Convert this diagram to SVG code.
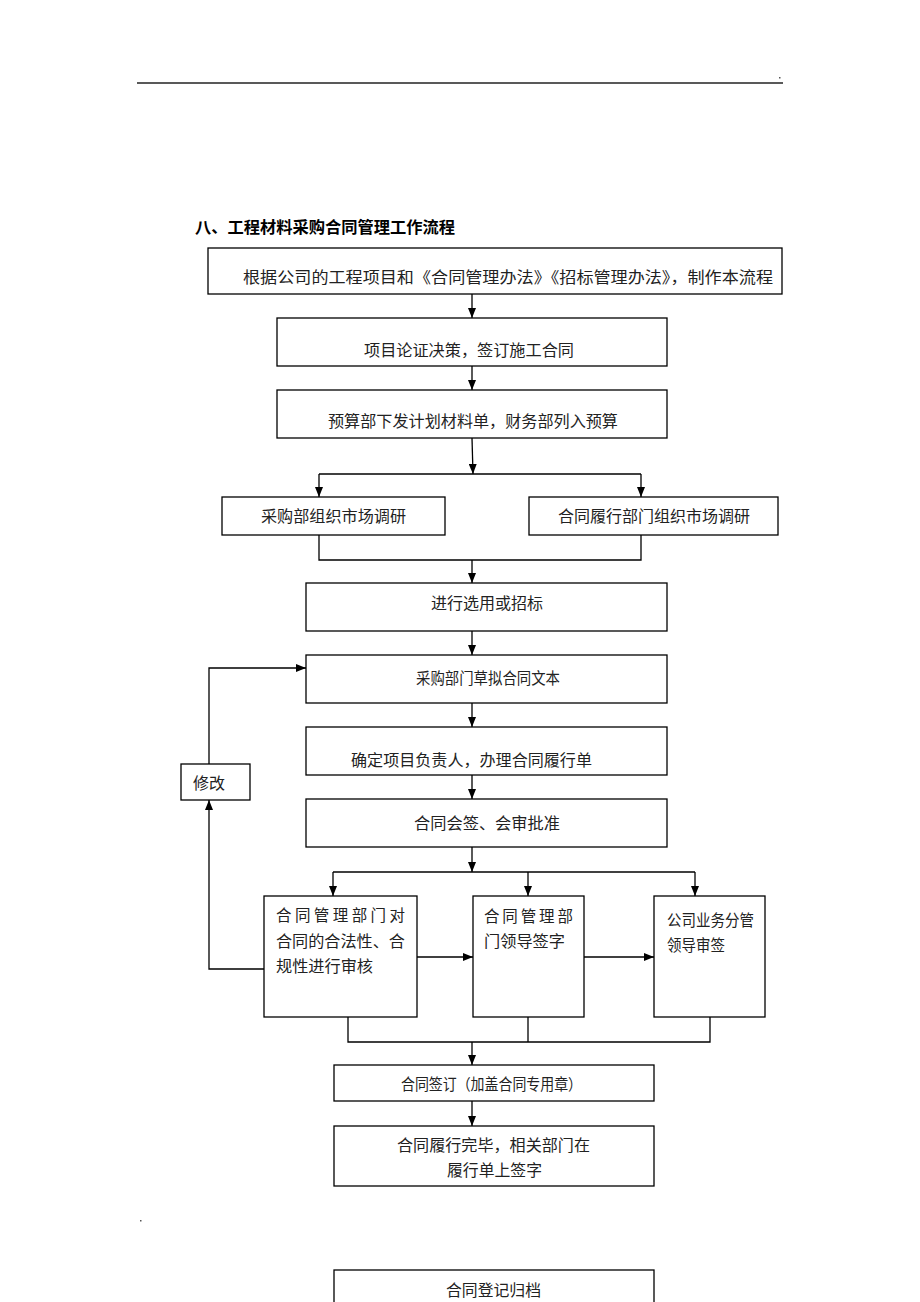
<svg xmlns="http://www.w3.org/2000/svg" width="920" height="1302" viewBox="0 0 920 1302">
<defs>
<marker id="ah" viewBox="0 0 10 8" refX="10" refY="4" markerWidth="10" markerHeight="8" markerUnits="userSpaceOnUse" orient="auto">
<path d="M0,0 L10,4 L0,8 Z" fill="#000"/>
</marker>
<style>
.box{fill:#fff;stroke:#000;stroke-width:1.3}
.ln{fill:none;stroke:#000;stroke-width:1.3}
.ar{fill:none;stroke:#000;stroke-width:1.3;marker-end:url(#ah)}
.t{font-family:"Noto Sans CJK SC","Noto Sans",sans-serif;font-size:15.5px;fill:#222}
.ttl{font-family:"Noto Sans CJK SC","Noto Sans",sans-serif;font-size:16px;font-weight:bold;fill:#000}
</style>
</defs>
<rect width="920" height="1302" fill="#fff"/>
<g id="header">
<line x1="137" y1="83" x2="783" y2="83" stroke="#222" stroke-width="1.5"/>
<rect x="779" y="77" width="1.5" height="1.5" fill="#555"/>
<rect x="140" y="1220" width="1.5" height="1.5" fill="#555"/>
<text class="ttl" x="195" y="233" textLength="260" lengthAdjust="spacingAndGlyphs">八、工程材料采购合同管理工作流程</text>
</g>
<g id="connectors">
<line class="ar" x1="472" y1="294" x2="472" y2="318"/>
<line class="ar" x1="472" y1="366" x2="472" y2="390"/>
<line class="ar" x1="472" y1="438" x2="473" y2="474"/>
<polyline class="ln" points="319,474 641,474"/>
<line class="ar" x1="319" y1="474" x2="319" y2="497"/>
<line class="ar" x1="641" y1="474" x2="641" y2="497"/>
<polyline class="ln" points="319,535 319,560 641,560 641,535"/>
<line class="ar" x1="472" y1="560" x2="472" y2="583"/>
<line class="ar" x1="472" y1="631" x2="472" y2="655"/>
<line class="ar" x1="472" y1="703" x2="472" y2="727"/>
<line class="ar" x1="472" y1="775" x2="472" y2="799"/>
<line class="ar" x1="472" y1="847" x2="472" y2="872"/>
<polyline class="ln" points="333,872 695,872"/>
<line class="ar" x1="333" y1="872" x2="333" y2="896"/>
<line class="ar" x1="528" y1="872" x2="528" y2="896"/>
<line class="ar" x1="695" y1="872" x2="695" y2="896"/>
<line class="ar" x1="417" y1="957" x2="473" y2="957"/>
<line class="ar" x1="584" y1="957" x2="654" y2="957"/>
<polyline class="ar" points="264,969 209,969 209,800"/>
<polyline class="ar" points="209,764 209,668 306,668"/>
<polyline class="ln" points="348,1017 348,1042 710,1042 710,1017"/>
<line class="ln" x1="528" y1="1017" x2="528" y2="1042"/>
<line class="ar" x1="472" y1="1042" x2="472" y2="1065"/>
<line class="ar" x1="472" y1="1101" x2="472" y2="1126"/>
</g>
<g id="n1"><rect class="box" x="208" y="248" width="574" height="46"/>
<text class="t" x="243" y="283" textLength="530" lengthAdjust="spacingAndGlyphs">根据公司的工程项目和《合同管理办法》《招标管理办法》，制作本流程</text></g>
<g id="n2"><rect class="box" x="277" y="318" width="390" height="48"/>
<text class="t" x="364" y="356" textLength="210" lengthAdjust="spacingAndGlyphs">项目论证决策，签订施工合同</text></g>
<g id="n3"><rect class="box" x="277" y="390" width="390" height="48"/>
<text class="t" x="328" y="427" textLength="290" lengthAdjust="spacingAndGlyphs">预算部下发计划材料单，财务部列入预算</text></g>
<g id="n4"><rect class="box" x="222" y="497" width="223" height="38"/>
<text class="t" x="261" y="522" textLength="145" lengthAdjust="spacingAndGlyphs">采购部组织市场调研</text></g>
<g id="n5"><rect class="box" x="529" y="497" width="249" height="38"/>
<text class="t" x="558" y="522" textLength="192" lengthAdjust="spacingAndGlyphs">合同履行部门组织市场调研</text></g>
<g id="n6"><rect class="box" x="306" y="583" width="361" height="48"/>
<text class="t" x="431" y="609" textLength="112" lengthAdjust="spacingAndGlyphs">进行选用或招标</text></g>
<g id="n7"><rect class="box" x="306" y="655" width="361" height="48"/>
<text class="t" x="416" y="684" textLength="144" lengthAdjust="spacingAndGlyphs">采购部门草拟合同文本</text></g>
<g id="n8"><rect class="box" x="306" y="727" width="361" height="48"/>
<text class="t" x="351" y="766" textLength="241" lengthAdjust="spacingAndGlyphs">确定项目负责人，办理合同履行单</text></g>
<g id="n9"><rect class="box" x="306" y="799" width="361" height="48"/>
<text class="t" x="414" y="829" textLength="146" lengthAdjust="spacingAndGlyphs">合同会签、会审批准</text></g>
<g id="n-modify"><rect class="box" x="181" y="764" width="69" height="36"/>
<text class="t" x="193" y="789" textLength="32" lengthAdjust="spacingAndGlyphs">修改</text></g>
<g id="n10"><rect class="box" x="264" y="896" width="153" height="121"/>
<text class="t" x="276" y="921" textLength="129" lengthAdjust="spacing">合同管理部门对</text>
<text class="t" x="276" y="947" textLength="129" lengthAdjust="spacingAndGlyphs">合同的合法性、合</text>
<text class="t" x="276" y="972" textLength="97" lengthAdjust="spacingAndGlyphs">规性进行审核</text></g>
<g id="n11"><rect class="box" x="473" y="896" width="111" height="121"/>
<text class="t" x="484" y="922" textLength="89" lengthAdjust="spacing">合同管理部</text>
<text class="t" x="484" y="947" textLength="81" lengthAdjust="spacingAndGlyphs">门领导签字</text></g>
<g id="n12"><rect class="box" x="654" y="896" width="111" height="121"/>
<text class="t" x="667" y="926" textLength="87" lengthAdjust="spacingAndGlyphs">公司业务分管</text>
<text class="t" x="667" y="951" textLength="58" lengthAdjust="spacingAndGlyphs">领导审签</text></g>
<g id="n13"><rect class="box" x="334" y="1065" width="320" height="36"/>
<text class="t" x="401" y="1090" textLength="181" lengthAdjust="spacingAndGlyphs">合同签订（加盖合同专用章）</text></g>
<g id="n14"><rect class="box" x="334" y="1126" width="320" height="60"/>
<text class="t" x="397" y="1151" textLength="193" lengthAdjust="spacingAndGlyphs">合同履行完毕，相关部门在</text>
<text class="t" x="447" y="1176" textLength="95" lengthAdjust="spacingAndGlyphs">履行单上签字</text></g>
<g id="n15"><rect class="box" x="334" y="1270" width="320" height="40"/>
<text class="t" x="446" y="1296" textLength="95" lengthAdjust="spacingAndGlyphs">合同登记归档</text></g>
</svg>
